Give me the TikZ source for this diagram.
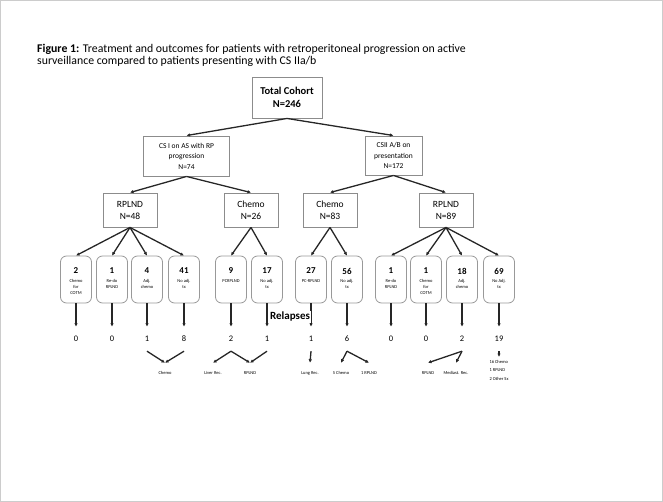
\documentclass[tikz,border=0pt]{standalone}
\usepackage{fontspec}
\setmainfont{Carlito}
\usetikzlibrary{arrows.meta}
\begin{document}
\begin{tikzpicture}[x=1pt,y=-1pt,
  box/.style={draw=black!45, line width=0.9pt, align=center, inner sep=0pt},
  leaf/.style={draw=black!40, line width=0.8pt, rounded corners=6pt, minimum width=31pt, minimum height=47pt, inner sep=0pt},
  conn/.style={draw=black!85, line width=1.3pt, -{Latex[length=3.5pt,width=3.5pt]}},
  lnum/.style={font=\bfseries\fontsize{9}{10}\selectfont, inner sep=0pt},
  ltxt/.style={font=\fontsize{4.5}{6}\selectfont, align=center, inner sep=0pt},
  rnum/.style={font=\fontsize{8.5}{10}\selectfont, inner xsep=1pt, inner ysep=0pt, minimum height=24pt},
  blab/.style={font=\fontsize{4.5}{5.5}\selectfont, inner xsep=0.5pt, inner ysep=0pt, minimum height=20pt},
  lvlthree/.style={box, minimum width=54pt, minimum height=34pt, font=\fontsize{9.5}{12}\selectfont}
]
\useasboundingbox (0,0) rectangle (663,502);
\draw[black!20, line width=1pt] (0.5,0.5) rectangle (662.5,501.5);

\node[anchor=north west, align=left, inner sep=0pt, font=\fontsize{11.8}{12}\selectfont] (title) at (37,44)
  {\textbf{Figure 1:} Treatment and outcomes for patients with retroperitoneal progression on active\\surveillance compared to patients presenting with CS IIa/b};

\node[box, minimum width=70pt, minimum height=41pt, font=\bfseries\fontsize{10.5}{13}\selectfont] (tc) at (287,97.5) {Total Cohort\\N=246};
\node[box, minimum width=86pt, minimum height=40pt, font=\fontsize{7.5}{10.5}\selectfont] (asp) at (186.5,156) {CS I on AS with RP\\progression\\N=74};
\node[box, minimum width=57pt, minimum height=39pt, font=\fontsize{7.5}{10.5}\selectfont] (csii) at (393.5,155.5) {CSII A/B on\\presentation\\N=172};

\node[lvlthree] (rplA) at (130,210) {RPLND\\N=48};
\node[lvlthree] (chA) at (251,210) {Chemo\\N=26};
\node[lvlthree] (chB) at (330,210) {Chemo\\N=83};
\node[lvlthree] (rplB) at (446,210) {RPLND\\N=89};

\draw[conn] (tc.south) -- (asp.north);
\draw[conn] (tc.south) -- (csii.north);
\draw[conn] (asp.south) -- (rplA.north);
\draw[conn] (asp.south) -- (chA.north);
\draw[conn] (csii.south) -- (chB.north);
\draw[conn] (csii.south) -- (rplB.north);

\foreach \n/\x/\num/\txt/\rn in {
  1/76/2/{Chemo\\for\\COTM}/0,
  2/112/1/{Re-do\\RPLND}/0,
  3/147/4/{Adj.\\chemo}/1,
  4/184/41/{No adj.\\tx}/8,
  5/231/9/{PCRPLND}/2,
  6/267/17/{No adj.\\tx}/1,
  7/311/27/{PC-RPLND}/1,
  8/347/56/{No adj.\\tx}/6,
  9/391/1/{Re-do\\RPLND}/0,
  10/426/1/{Chemo\\for\\COTM}/0,
  11/462/18/{Adj.\\chemo}/2,
  12/499/69/{No Adj.\\tx}/19} {
  \node[leaf] (L\n) at (\x,279.5) {};
  \node[lnum] at (\x,271) {\num};
  \node[ltxt, anchor=north] at (\x,279) {\txt};
  \node[rnum] (R\n) at (\x,339) {\rn};
  \draw[conn] (L\n.south) -- (R\n.north);
}

\foreach \n in {1,2,3,4} \draw[conn] (rplA.south) -- (L\n.north);
\foreach \n in {5,6} \draw[conn] (chA.south) -- (L\n.north);
\foreach \n in {7,8} \draw[conn] (chB.south) -- (L\n.north);
\foreach \n in {9,10,11,12} \draw[conn] (rplB.south) -- (L\n.north);

\node[fill=white, inner sep=1pt, font=\bfseries\fontsize{11}{12}\selectfont] (rel) at (290,317) {Relapses};

\node[blab] (bChemo) at (165,373) {Chemo};
\node[blab] (bLiver) at (213,373) {Liver Rec.};
\node[blab] (bRpA) at (250,373) {RPLND};
\node[blab] (bLung) at (310,373) {Lung Rec.};
\node[blab] (bFive) at (341,373) {5 Chemo};
\node[blab] (bOne) at (369,373) {1 RPLND};
\node[blab] (bRpB) at (428,373) {RPLND};
\node[blab] (bMed) at (456,373) {Mediast. Rec.};
\node[anchor=north, align=left, inner xsep=0pt, inner ysep=3pt, font=\fontsize{4.5}{8.5}\selectfont] (bNine) at (499,357) {16 Chemo\\1 RPLND\\2 Other Sx};

\draw[conn] (R3.south) -- (bChemo.north);
\draw[conn] (R4.south) -- (bChemo.north);
\draw[conn] (R5.south) -- (bLiver.north);
\draw[conn] (R5.south) -- (bRpA.north);
\draw[conn] (R6.south) -- (bRpA.north);
\draw[conn] (R7.south) -- (bLung.north);
\draw[conn] (R8.south) -- (bFive.north);
\draw[conn] (R8.south) -- (bOne.north);
\draw[conn] (R11.south) -- (bRpB.north);
\draw[conn] (R11.south) -- (bMed.north);
\draw[conn] (R12.south) -- (bNine.north);
\end{tikzpicture}
\end{document}
